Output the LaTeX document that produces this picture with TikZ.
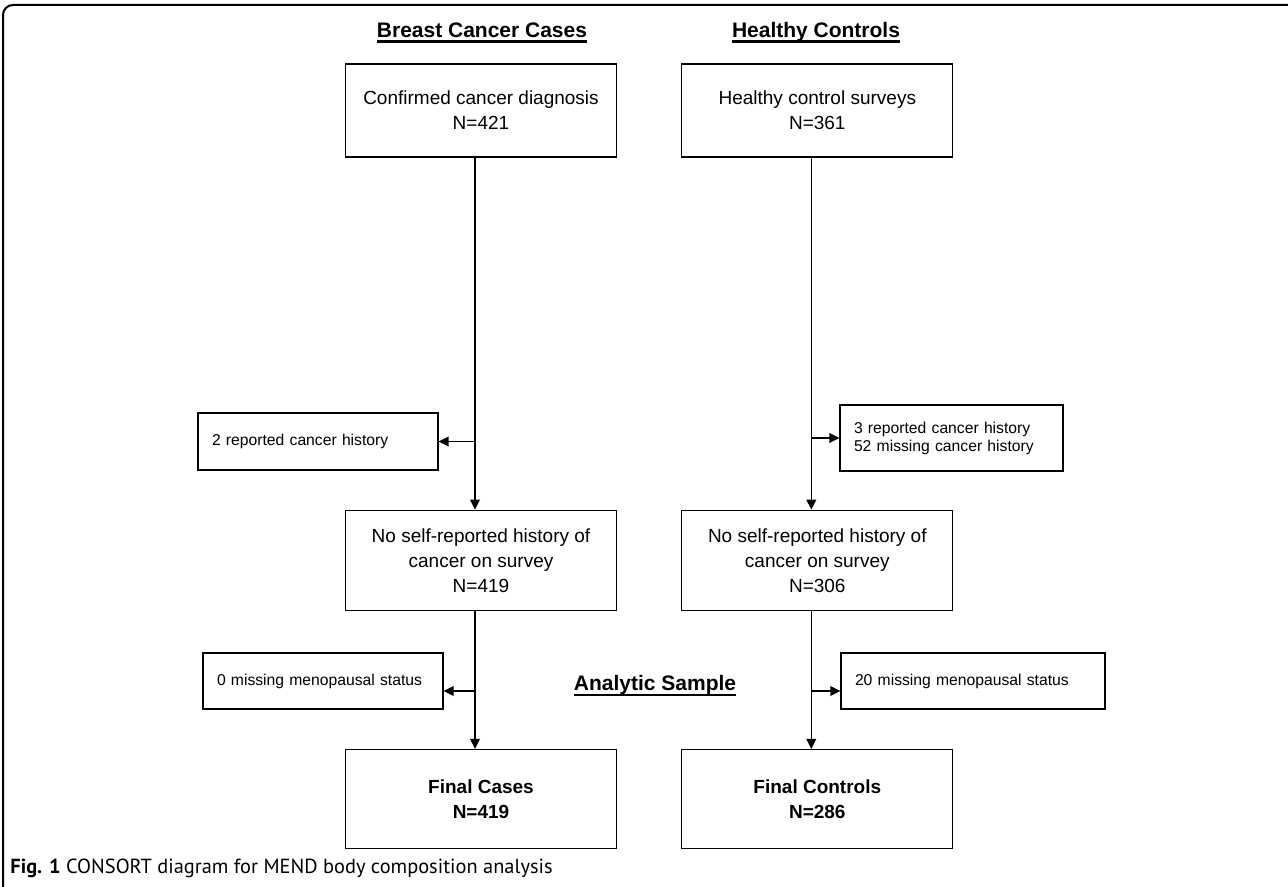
\documentclass[tikz,border=0pt]{standalone}
\usepackage{fontspec}
\setmainfont{Liberation Sans}
\newfontfamily\capfont{PT Sans}
\usetikzlibrary{arrows.meta,positioning,calc}
\newcommand\headul[1]{\setbox0=\hbox{#1}\dp0=0pt\vtop{\copy0\kern1.5pt\hrule height 1.2pt}}
\tikzset{
    mainbox/.style = {draw, rectangle, line width=0.65pt,
        minimum width=135.5pt, minimum height=50pt,
        inner sep=2pt, align=center,
        font=\fontsize{9.5}{12.5}\selectfont},
    sidebox/.style = {draw, rectangle, line width=0.65pt,
        inner xsep=7pt, inner ysep=2pt, align=left,
        font=\fontsize{7.85}{9}\selectfont},
    heading/.style = {font=\bfseries\fontsize{10.5}{12}\selectfont, inner sep=0pt},
    arr/.style = {-{Triangle[length=5pt,width=4.8pt]}, line width=0.75pt},
}

\begin{document}
\begin{tikzpicture}[x=0.5pt, y=-0.5pt, node distance=32pt]
	\useasboundingbox (0,0) rectangle (1288,887);
	% figure frame
	\draw[line width=1pt, rounded corners=5pt] (3,887) -- (3,5) -- (1288,5);
	
	% column headings
	\node (casesHead) [heading, anchor=base] at (482,37.5) {\headul{Breast Cancer Cases}};
	\node (ctrlHead) [heading, anchor=base] at (816,37.5) {\headul{Healthy Controls}};
	
	% main blocks
	\node (cases) [mainbox, minimum height=46.5pt] at (481,110.5) {Confirmed cancer diagnosis\\N=421};
	\node (controls) [mainbox, minimum height=46.5pt, right=of cases] {Healthy control surveys\\N=361};
	
	\node (noHistCases) [mainbox, below=176pt of cases] {No self-reported history of\\cancer on survey\\N=419};
	\node (noHistCtrl) [mainbox, right=of noHistCases] {No self-reported history of\\cancer on survey\\N=306};
	
	\node (finalCases) [mainbox, minimum height=49.5pt, below=69pt of noHistCases] {\textbf{Final Cases}\\\textbf{N=419}};
	\node (finalCtrl) [mainbox, minimum height=49.5pt, right=of finalCases] {\textbf{Final Controls}\\\textbf{N=286}};
	
	% exclusion blocks
	\node (cancerHist) [sidebox, text width=106pt, minimum height=28.5pt] at (318,441.5) {2 reported cancer history};
	\node (ctrlHist) [sidebox, text width=97.5pt, minimum height=33pt] at (951.5,438) {3 reported cancer history\\52 missing cancer history};
	\node (menoCases) [sidebox, text width=106pt, minimum height=28pt] at (323,681) {0 missing menopausal status};
	\node (menoCtrl) [sidebox, text width=118pt, minimum height=28pt] at (973,681) {20 missing menopausal status};
	
	\node (analytic) [heading, anchor=base] at (655,690.5) {\headul{Analytic Sample}};
	
	% caption
	\node (caption) [anchor=base west, inner sep=0pt, font=\capfont\fontsize{10.2}{12}\selectfont] at (10,873) {\textbf{Fig. 1} CONSORT diagram for MEND body composition analysis};
	
	%% edges
	\coordinate (lcol) at ([xshift=-3pt]cases.south);
	\coordinate (rcol) at ([xshift=-3pt]controls.south);
	\draw[arr] (lcol) -- (lcol |- noHistCases.north);
	\draw[arr] (rcol) -- (rcol |- noHistCtrl.north);
	\draw[arr] (lcol |- cancerHist.east) -- (cancerHist.east);
	\draw[arr] (rcol |- ctrlHist.west) -- (ctrlHist.west);
	
	\coordinate (lcolB) at ([xshift=-3pt]noHistCases.south);
	\coordinate (rcolB) at ([xshift=-3pt]noHistCtrl.south);
	\coordinate (menoCasesIn) at ([yshift=-5pt]menoCases.east);
	\coordinate (menoCtrlIn) at ([yshift=-5pt]menoCtrl.west);
	\draw[arr] (lcolB) -- (lcolB |- finalCases.north);
	\draw[arr] (rcolB) -- (rcolB |- finalCtrl.north);
	\draw[arr] (lcolB |- menoCasesIn) -- (menoCasesIn);
	\draw[arr] (rcolB |- menoCtrlIn) -- (menoCtrlIn);
	
\end{tikzpicture}
\end{document}
